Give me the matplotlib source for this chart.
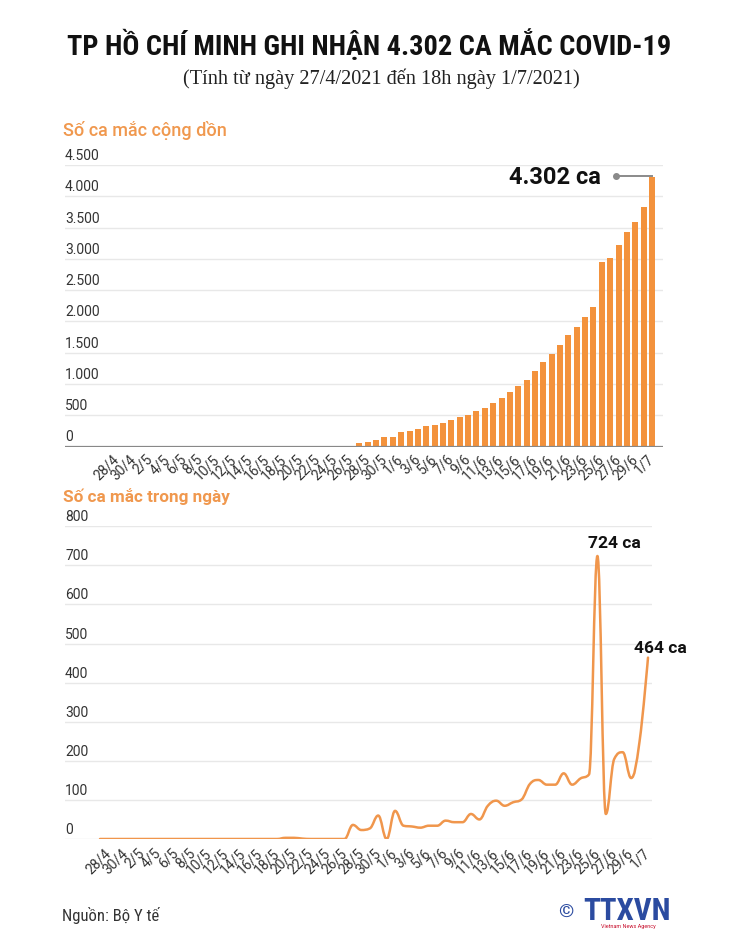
import matplotlib
matplotlib.use("Agg")
import matplotlib.pyplot as plt
from matplotlib.path import Path
from matplotlib.patches import PathPatch
import matplotlib.transforms as mtransforms
import numpy as np
import logging
logging.getLogger("matplotlib.font_manager").setLevel(logging.ERROR)

# ---------------- DATA ----------------
dates = (["27/4", "28/4", "29/4", "30/4"]
         + [f"{d}/5" for d in range(1, 32)]
         + [f"{d}/6" for d in range(1, 31)]
         + ["1/7"])

# cumulative cases (bars), starting 27/5
cum_start = "27/5"
cumulative = [53, 69, 101, 149, 149, 229, 245, 277, 320, 351, 383, 421, 469,
              500, 564, 618, 703, 783, 868, 969, 1070, 1203, 1353, 1486, 1619,
              1784, 1917, 2066, 2231, 2950, 3019, 3216, 3429, 3584, 3834, 4302]

# daily new cases (line), 27/4 .. 1/7
daily = ([0] * 22 + [3, 3, 1] + [0] * 5
         + [36, 23, 27, 60, 0, 72, 34, 32, 29, 34, 34, 47, 43, 43, 64, 50, 85,
            98, 85, 94, 101, 141, 151, 139, 139, 168, 139, 155, 165, 724, 64,
            205, 222, 156, 250, 464])

top_yticks = [0, 500, 1000, 1500, 2000, 2500, 3000, 3500, 4000, 4500]
bot_yticks = [0, 100, 200, 300, 400, 500, 600, 700, 800]

title = "TP HỒ CHÍ MINH GHI NHẬN 4.302 CA MẮC COVID-19"
subtitle = "(Tính từ ngày 27/4/2021 đến 18h ngày 1/7/2021)"
top_heading = "Số ca mắc cộng dồn"
bot_heading = "Số ca mắc trong ngày"
source = "Nguồn: Bộ Y tế"

# ---------------- STYLE ----------------
W, H = 730, 953
BAR = "#F3923C"
LINE = "#F0964C"
HEAD = "#F0984E"
GRID = "#E8E8E8"
TXT = "#333333"
SANS = ["Roboto", "DejaVu Sans"]
NARROW = ["Roboto Condensed", "Liberation Sans Narrow", "Roboto", "DejaVu Sans"]
SERIF = ["Liberation Serif", "DejaVu Serif"]

fig = plt.figure(figsize=(W / 100, H / 100), dpi=100)
fig.patch.set_facecolor("white")


def px_axes(left, top, right, bottom):
    return fig.add_axes([left / W, 1 - bottom / H, (right - left) / W, (bottom - top) / H])


def fmt_dot(v):
    return f"{v:,}".replace(",", ".")


def fit_width(t, target_px, max_size):
    renderer = fig.canvas.get_renderer()
    t.set_fontsize(max_size)
    w = t.get_window_extent(renderer=renderer).width
    if w > target_px:
        t.set_fontsize(max_size * target_px / w)


n = len(dates)
x = np.arange(n)

# ---------------- TOP CHART ----------------
ax1 = px_axes(65, 166, 663, 447.5)
x0_top, dx_top = 108.6, 8.36
ax1.set_xlim(-(x0_top - 65) / dx_top, (n - 1) + (663 - 652) / dx_top)
ax1.set_ylim(0, 4500)
start = dates.index(cum_start)
cx = x[start:start + len(cumulative)]
ax1.bar(cx, cumulative, width=0.72, color=BAR, zorder=3)
for v in top_yticks[1:]:
    ax1.axhline(v, color=GRID, lw=1.0, zorder=1)
ax1.axhline(0, color="#888888", lw=1.6, zorder=4)
for s in ax1.spines.values():
    s.set_visible(False)
ax1.set_yticks([])
ax1.set_xticks(x[1::2])
ax1.set_xticklabels(dates[1::2], rotation=45, ha="right", va="center",
                    rotation_mode="anchor", fontsize=10, color=TXT, family=SANS)
ax1.tick_params(axis="x", length=0, pad=7)
off = mtransforms.offset_copy(ax1.get_yaxis_transform(), fig=fig, x=0, y=3, units="dots")
for v in top_yticks:
    ax1.text(0, v, fmt_dot(v), transform=off, ha="left", va="bottom",
             fontsize=10, color=TXT, family=SANS)

# annotation for last bar
last_x, last_v = cx[-1], cumulative[-1]
ax1.plot([last_x - 4.3, last_x], [last_v + 20, last_v + 20], color="#8a8a8a", lw=1.4, zorder=5)
ax1.plot([last_x - 4.3], [last_v + 20], "o", color="#8a8a8a", ms=4, zorder=5)
ax1.text(last_x - 6.1, last_v + 20, f"{fmt_dot(last_v)} ca", ha="right", va="center",
         fontsize=17, fontweight="bold", color="#111111", family=SANS)

# ---------------- BOTTOM CHART ----------------
ax2 = px_axes(65, 527.3, 652, 840)
x0_bot, dx_bot = 100, 8.43
ax2.set_xlim(-(x0_bot - 65) / dx_bot, (n - 1) + (652 - 648) / dx_bot)
ax2.set_ylim(0, 800)
for v in bot_yticks:
    ax2.axhline(v, color=GRID, lw=1.0, zorder=1)
for s in ax2.spines.values():
    s.set_visible(False)
ax2.set_yticks([])
ax2.set_xticks(x[1::2])
ax2.set_xticklabels(dates[1::2], rotation=45, ha="right", va="center",
                    rotation_mode="anchor", fontsize=10, color=TXT, family=SANS)
ax2.tick_params(axis="x", length=0, pad=8)
off2 = mtransforms.offset_copy(ax2.get_yaxis_transform(), fig=fig, x=0, y=3, units="dots")
for v in bot_yticks:
    ax2.text(0, v, str(v), transform=off2, ha="left", va="bottom",
             fontsize=10, color=TXT, family=SANS)


# Highcharts-style spline through the daily points (drawing only)
def spline_path(xs, ys, smoothing=1.5):
    denom = smoothing + 1
    m = len(xs)
    lc = [(xs[i], ys[i]) for i in range(m)]
    rc = [(xs[i], ys[i]) for i in range(m)]
    for i in range(1, m - 1):
        px, py = xs[i], ys[i]
        lx, ly = xs[i - 1], ys[i - 1]
        nx, ny = xs[i + 1], ys[i + 1]
        lcx = (smoothing * px + lx) / denom
        lcy = (smoothing * py + ly) / denom
        rcx = (smoothing * px + nx) / denom
        rcy = (smoothing * py + ny) / denom
        corr = 0.0
        if rcx != lcx:
            corr = ((rcy - lcy) * (rcx - px)) / (rcx - lcx) + py - rcy
        lcy += corr
        rcy += corr
        if lcy > ly and lcy > py:
            lcy = max(ly, py); rcy = 2 * py - lcy
        elif lcy < ly and lcy < py:
            lcy = min(ly, py); rcy = 2 * py - lcy
        if rcy > ny and rcy > py:
            rcy = max(ny, py); lcy = 2 * py - rcy
        elif rcy < ny and rcy < py:
            rcy = min(ny, py); lcy = 2 * py - rcy
        lc[i] = (lcx, lcy)
        rc[i] = (rcx, rcy)
    verts = [(xs[0], ys[0])]
    codes = [Path.MOVETO]
    for i in range(1, m):
        verts += [rc[i - 1], lc[i], (xs[i], ys[i])]
        codes += [Path.CURVE4] * 3
    return Path(verts, codes)


path = spline_path(list(x.astype(float)), [float(v) for v in daily])
ax2.add_patch(PathPatch(path, fill=False, edgecolor=LINE, lw=1.8, zorder=3,
                        capstyle="round", joinstyle="round"))

imax = int(np.argmax(daily))
ax2.annotate(f"{daily[imax]} ca", (x[imax], daily[imax]), xytext=(17, 6),
             textcoords="offset pixels", ha="center", va="bottom",
             fontsize=12.5, fontweight="bold", color="#111111", family=SANS)
ax2.annotate(f"{daily[-1]} ca", (x[-1], daily[-1]), xytext=(12, 3),
             textcoords="offset pixels", ha="center", va="bottom",
             fontsize=12.5, fontweight="bold", color="#111111", family=SANS)

# ---------------- TEXTS ----------------
t_title = fig.text(369 / W, 1 - 45 / H, title, ha="center", va="center", fontsize=22.5,
                   fontweight="bold", color="#111111", family=NARROW)
fit_width(t_title, 604, 22.5)
fig.text(381 / W, 1 - 79 / H, subtitle, ha="center", va="center", fontsize=14.6,
         color="#222222", family=SERIF)
fig.text(63 / W, 1 - 130 / H, top_heading, ha="left", va="center", fontsize=13,
         fontweight="medium", color=HEAD, family=SANS)
fig.text(63 / W, 1 - 497 / H, bot_heading, ha="left", va="center", fontsize=12.3,
         fontweight="bold", color=HEAD, family=SANS)
t_src = fig.text(62 / W, 1 - 915 / H, source, ha="left", va="center", fontsize=12,
                 color="#333333", family=NARROW)
fit_width(t_src, 100, 12)

# logo as text
fig.text(566 / W, 1 - 912 / H, "©", ha="center", va="center", fontsize=14,
         fontweight="bold", color="#2B4BA0", family=SANS)
t_logo = fig.text(627 / W, 1 - 911 / H, "TTXVN", ha="center", va="center", fontsize=24,
                  fontweight="heavy", color="#2B4BA0", family=NARROW)
fit_width(t_logo, 88, 24)
fig.text(628 / W, 1 - 927 / H, "Vietnam News Agency", ha="center", va="center", fontsize=4,
         color="#C8102E", family=SANS)

fig.savefig("out.png", dpi=100, facecolor="white")
